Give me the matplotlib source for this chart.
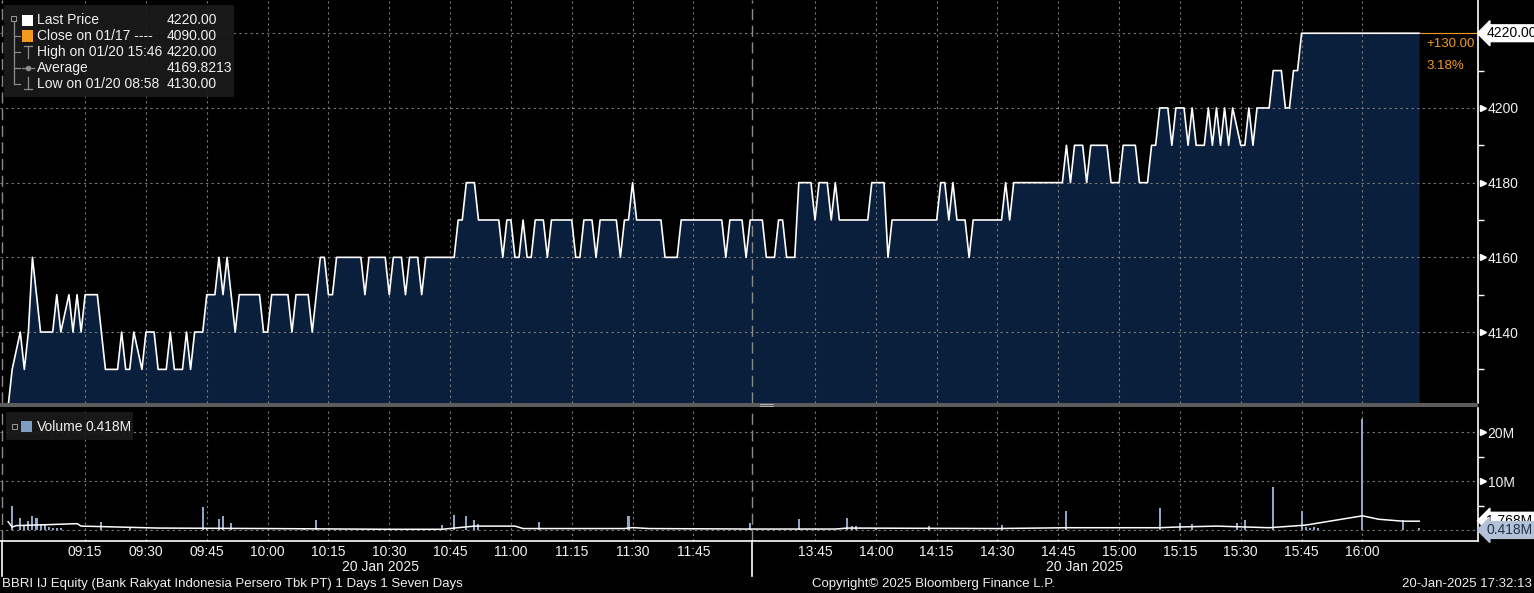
import matplotlib
matplotlib.use("Agg")
import matplotlib.pyplot as plt
import matplotlib.transforms as mtransforms
from matplotlib.patches import Rectangle
from matplotlib.lines import Line2D

# BBRI IJ intraday 20 Jan 2025 (1-minute bars, price + volume)
price_times = ["08:56", "08:57", "08:59", "09:00", "09:01", "09:02", "09:04", "09:07", "09:08", "09:09",
               "09:11", "09:12", "09:13", "09:14", "09:15", "09:18", "09:20", "09:23", "09:24", "09:25",
               "09:26", "09:27", "09:29", "09:30", "09:32", "09:33", "09:35", "09:36", "09:37", "09:39",
               "09:40", "09:41", "09:42", "09:44", "09:45", "09:47", "09:48", "09:49", "09:50", "09:52",
               "09:53", "09:58", "09:59", "10:00", "10:01", "10:05", "10:06", "10:07", "10:10", "10:11",
               "10:13", "10:14", "10:15", "10:16", "10:17", "10:23", "10:24", "10:25", "10:29", "10:30",
               "10:31", "10:33", "10:34", "10:35", "10:37", "10:38", "10:39", "10:46", "10:47", "10:48",
               "10:49", "10:51", "10:52", "10:57", "10:58", "10:59", "11:00", "11:01", "11:02", "11:03",
               "11:04", "11:05", "11:06", "11:08", "11:09", "11:10", "11:15", "11:16", "11:17", "11:18",
               "11:20", "11:21", "11:22", "11:26", "11:27", "11:28", "11:29", "11:30", "11:31", "11:37",
               "11:38", "11:41", "11:42", "11:52", "11:53", "11:54", "11:57", "11:58", "11:59",
               "13:32", "13:33", "13:35", "13:36", "13:37", "13:38", "13:40", "13:41", "13:44", "13:45",
               "13:46", "13:48", "13:49", "13:50", "13:51", "13:58", "13:59", "14:02", "14:03", "14:04",
               "14:15", "14:16", "14:17", "14:18", "14:19", "14:20", "14:22", "14:23", "14:24", "14:31",
               "14:32", "14:33", "14:34", "14:46", "14:47", "14:48", "14:49", "14:51", "14:52", "14:53",
               "14:57", "14:58", "15:00", "15:01", "15:04", "15:05", "15:07", "15:08", "15:09", "15:10",
               "15:12", "15:13", "15:14", "15:16", "15:17", "15:18", "15:19", "15:21", "15:22", "15:23",
               "15:24", "15:25", "15:26", "15:27", "15:28", "15:30", "15:31", "15:32", "15:33", "15:34",
               "15:37", "15:38", "15:40", "15:41", "15:42", "15:43", "15:44", "15:45", "16:14"]
price_values = [4120, 4130, 4140, 4130, 4140, 4160, 4140, 4140, 4150, 4140,
                4150, 4140, 4150, 4140, 4150, 4150, 4130, 4130, 4140, 4130,
                4130, 4140, 4130, 4140, 4140, 4130, 4130, 4140, 4130, 4130,
                4140, 4130, 4140, 4140, 4150, 4150, 4160, 4150, 4160, 4140,
                4150, 4150, 4140, 4140, 4150, 4150, 4140, 4150, 4150, 4140,
                4160, 4160, 4150, 4150, 4160, 4160, 4150, 4160, 4160, 4150,
                4160, 4160, 4150, 4160, 4160, 4150, 4160, 4160, 4170, 4170,
                4180, 4180, 4170, 4170, 4160, 4170, 4170, 4160, 4160, 4170,
                4160, 4160, 4170, 4170, 4160, 4170, 4170, 4160, 4160, 4170,
                4170, 4160, 4170, 4170, 4160, 4170, 4170, 4180, 4170, 4170,
                4160, 4160, 4170, 4170, 4160, 4170, 4170, 4160, 4170,
                4170, 4160, 4160, 4170, 4170, 4160, 4160, 4180, 4180, 4170,
                4180, 4180, 4170, 4180, 4170, 4170, 4180, 4180, 4160, 4170,
                4170, 4180, 4180, 4170, 4180, 4170, 4170, 4160, 4170, 4170,
                4180, 4170, 4180, 4180, 4190, 4180, 4190, 4190, 4180, 4190,
                4190, 4180, 4180, 4190, 4190, 4180, 4180, 4190, 4190, 4200,
                4200, 4190, 4200, 4200, 4190, 4200, 4190, 4190, 4200, 4190,
                4200, 4190, 4200, 4190, 4200, 4190, 4190, 4200, 4190, 4200,
                4200, 4210, 4210, 4200, 4200, 4210, 4210, 4220, 4220]

vol_times = ["08:57", "08:59", "09:00", "09:01", "09:02", "09:03", "09:04", "09:05", "09:06", "09:07",
             "09:08", "09:09", "09:19", "09:26", "09:44", "09:45", "09:48", "09:49", "09:51", "10:09",
             "10:12", "10:43", "10:46", "10:49", "10:51", "10:52", "11:07", "11:29", "11:59", "13:41",
             "13:53", "13:54", "13:55", "14:00", "14:13", "14:31", "14:47", "15:10", "15:15", "15:18",
             "15:29", "15:31", "15:38", "15:45", "15:46", "15:47", "15:48", "15:49", "16:00", "16:10",
             "16:14"]
vol_values = [4.9, 2.5, 1.0, 1.8, 2.9, 2.4, 1.3, 1.3, 0.6, 0.5,
              0.5, 0.4, 1.6, 0.4, 4.7, 0.5, 2.2, 2.9, 1.4, 0.5,
              2.0, 1.0, 3.0, 2.8, 2.0, 1.2, 1.6, 2.8, 1.5, 2.2,
              2.4, 0.8, 0.8, 0.4, 0.8, 1.0, 3.9, 4.5, 1.4, 1.2,
              1.4, 2.0, 8.8, 3.9, 0.6, 0.5, 0.7, 0.5, 22.6, 2.0,
              0.418]

avg_times = ["08:56", "08:57", "08:58", "09:06", "09:13", "09:14", "09:19", "09:33", "10:00", "10:30",
             "10:43", "10:51", "11:01", "11:03", "11:28", "11:30", "11:34", "11:59", "13:50", "13:53",
             "14:30", "14:47", "15:10", "15:14", "15:24", "15:37", "15:46", "16:00", "16:04", "16:10",
             "16:14"]
avg_values = [1.7, 0.6, 0.9, 1.1, 1.3, 0.8, 0.7, 0.4, 0.3, 0.15,
              0.15, 0.8, 0.8, 0.3, 0.3, 0.5, 0.3, 0.2, 0.2, 0.4,
              0.3, 0.47, 0.47, 0.6, 0.8, 0.47, 1.0, 2.9, 2.2, 1.8,
              1.8]

tick_times = ["09:15", "09:30", "09:45", "10:00", "10:15", "10:30", "10:45", "11:00", "11:15", "11:30",
              "11:45", "13:45", "14:00", "14:15", "14:30", "14:45", "15:00", "15:15", "15:30", "15:45",
              "16:00"]
price_ticks = [4140, 4160, 4180, 4200]
vol_ticks = [10, 20]


def tx(s):
    # minutes on a compressed axis (lunch break removed)
    h, m = map(int, s.split(":"))
    t = h * 60 + m
    if t <= 12 * 60:
        return t - (8 * 60 + 56)
    return 184 + t - (13 * 60 + 30)


W, H = 1534, 593
plt.rcParams["font.family"] = ["Liberation Sans", "DejaVu Sans"]
BG = "#000000"
NAVY = "#0a1f3b"
GRID = "#7a7a7a"
ORANGE = "#f39a1e"
VOLC = "#8fa6c6"
TXT = "#f0f0f0"

fig = plt.figure(figsize=(W / 100, H / 100), dpi=100, facecolor=BG)


def fx(x):
    return x / W


def fy(y):
    return 1 - y / H


xmin, xmax = -2.0, 362.5
px = [tx(t) for t in price_times]
vx = [tx(t) for t in vol_times]
ax_ = [tx(t) for t in avg_times]

# ---- price panel
ax1 = fig.add_axes([0, fy(403), fx(1478), 403 / H], facecolor=BG)
ax1.set_xlim(xmin, xmax)
ax1.set_ylim(4121, 4228.9)
ax1.fill_between(px, price_values, 4100, color=NAVY, lw=0, zorder=1)
ax1.plot(px, price_values, color="white", lw=1.2, zorder=3)
ax1.plot([px[-1], xmax], [price_values[-1], price_values[-1]], color=ORANGE, lw=0.8, zorder=3)
for t in tick_times:
    ax1.axvline(tx(t), color=GRID, lw=0.8, ls=(0, (2, 3)), zorder=2)
for v in price_ticks + [4220]:
    ax1.axhline(v, color=GRID, lw=0.8, ls=(0, (2, 3)), zorder=2)
ax1.axvline(183.4, color="#8a8a8a", lw=1, ls=(0, (8, 4)), zorder=2)
ax1.axvline(xmin + 0.4, color="#8a8a8a", lw=1, ls=(0, (8, 4)), zorder=2)

ax1.yaxis.tick_right()
ax1.set_yticks(price_ticks)
ax1.set_yticks([4130, 4150, 4170, 4190, 4210], minor=True)
ax1.set_yticklabels([str(v) for v in price_ticks], color=TXT, fontsize=10)
ax1.tick_params(axis="y", which="major", length=0, pad=7)
ax1.tick_params(axis="y", which="minor", length=4, width=1, color="white", direction="out")
ax1.set_xticks([])
for s in ["top", "left", "bottom"]:
    ax1.spines[s].set_visible(False)
ax1.spines["right"].set_color("white")
ax1.spines["right"].set_linewidth(1.2)
trans1 = mtransforms.blended_transform_factory(ax1.transAxes, ax1.transData)
for v in price_ticks:
    ax1.plot([1.0035], [v], marker=">", ms=5, color="white", transform=trans1, clip_on=False)

ax1.text(1.0055, 4220, "4220.00", transform=trans1, fontsize=10, color="black", va="center", ha="left",
         bbox=dict(boxstyle="larrow,pad=0.1", fc="white", ec="white"), zorder=6, clip_on=False)
ax1.text(tx("16:14") + 1.8, 4217, "+130.00", fontsize=9.5, color=ORANGE, va="center", ha="left")
ax1.text(tx("16:14") + 1.8, 4211.3, "3.18%", fontsize=9.5, color=ORANGE, va="center", ha="left")

# ---- separator between panels
fig.patches.append(Rectangle((0, fy(407)), fx(1478), 4 / H, transform=fig.transFigure,
                             fc="#5c5c5c", ec="none", zorder=5))
fig.lines.append(Line2D([fx(760), fx(773)], [fy(404), fy(404)], color="#b0b0b0", lw=0.7,
                        transform=fig.transFigure, zorder=6))
fig.lines.append(Line2D([fx(760), fx(773)], [fy(406), fy(406)], color="#b0b0b0", lw=0.7,
                        transform=fig.transFigure, zorder=6))

# ---- volume panel
ax2 = fig.add_axes([0, fy(541), fx(1478), 133 / H], facecolor=BG)
ax2.set_xlim(xmin, xmax)
ax2.set_ylim(-2.24, 24.9)
ax2.bar(vx, vol_values, width=0.5, color=VOLC, zorder=3)
ax2.plot(ax_, avg_values, color="white", lw=1.1, zorder=4)
for t in tick_times:
    ax2.axvline(tx(t), color=GRID, lw=0.8, ls=(0, (2, 3)), zorder=1)
for v in [0] + vol_ticks:
    ax2.axhline(v, color=GRID, lw=0.8, ls=(0, (2, 3)), zorder=1)
ax2.axvline(183.4, color="#8a8a8a", lw=1, ls=(0, (8, 4)), zorder=2)
ax2.axvline(xmin + 0.4, color="#8a8a8a", lw=1, ls=(0, (8, 4)), zorder=2)

ax2.yaxis.tick_right()
ax2.set_yticks(vol_ticks)
ax2.set_yticks([5, 15], minor=True)
ax2.set_yticklabels(["%dM" % v for v in vol_ticks], color=TXT, fontsize=10)
ax2.tick_params(axis="y", which="major", length=0, pad=7)
ax2.tick_params(axis="y", which="minor", length=4, width=1, color="white", direction="out")
ax2.set_xticks([tx(t) for t in tick_times])
ax2.set_xticklabels(tick_times, color=TXT, fontsize=10)
ax2.tick_params(axis="x", length=0, pad=3)
for s in ["top", "left"]:
    ax2.spines[s].set_visible(False)
for s in ["right", "bottom"]:
    ax2.spines[s].set_color("white")
    ax2.spines[s].set_linewidth(1.2)
trans2 = mtransforms.blended_transform_factory(ax2.transAxes, ax2.transData)
for v in vol_ticks:
    ax2.plot([1.0035], [v], marker=">", ms=5, color="white", transform=trans2, clip_on=False)
# moving-average label, mostly hidden behind the last-volume label (as in the terminal)
ax2.text(1.0055, 1.9, "1.768M", transform=trans2, fontsize=10, color="black", va="center", ha="left",
         bbox=dict(boxstyle="larrow,pad=0.1", fc="white", ec="white"), zorder=6, clip_on=False)
ax2.text(1.0055, 0.0, "0.418M", transform=trans2, fontsize=10, color="#20324c", va="center", ha="left",
         bbox=dict(boxstyle="larrow,pad=0.1", fc="#b3c2d6", ec="#b3c2d6"), zorder=7, clip_on=False)

# ---- legend boxes
fig.patches.append(Rectangle((fx(4), fy(97)), fx(230), 92 / H, transform=fig.transFigure,
                             fc="#1b1b1b", ec="none", alpha=0.92, zorder=8))
rows = [20.5, 36, 52, 68, 84]
labels = ["Last Price", "Close on 01/17 ---- ", "High on 01/20 15:46", "Average", "Low on 01/20 08:58"]
values = ["4220.00", "4090.00", "4220.00", "4169.8213", "4130.00"]
for y, lab, val in zip(rows, labels, values):
    fig.text(fx(37), fy(y), lab, color=TXT, fontsize=10, va="center", ha="left", zorder=9)
    fig.text(fx(167), fy(y), val, color=TXT, fontsize=10, va="center", ha="left", zorder=9)
fig.patches.append(Rectangle((fx(21.5), fy(26)), fx(11), 11 / H, transform=fig.transFigure,
                             fc="white", ec="none", zorder=9))
fig.patches.append(Rectangle((fx(21.5), fy(41.5)), fx(11), 11 / H, transform=fig.transFigure,
                             fc=ORANGE, ec="none", zorder=9))
fig.patches.append(Rectangle((fx(11), fy(21)), fx(5), 5 / H, transform=fig.transFigure,
                             fc="none", ec="#9a9a9a", lw=0.7, zorder=9))
tree = [([13.5, 13.5], [21, 84]), ([14, 20], [36, 36]), ([14, 20], [52, 52]), ([14, 20], [68, 68]),
        ([14, 20], [84, 84]), ([24, 32], [46, 46]), ([28, 28], [46, 58]), ([22, 34], [68, 68]),
        ([28, 28], [77, 89]), ([24, 32], [89, 89])]
for xs, ys in tree:
    fig.lines.append(Line2D([fx(v) for v in xs], [fy(v) for v in ys], color="#8c8c8c", lw=0.9,
                            transform=fig.transFigure, zorder=9))
fig.lines.append(Line2D([fx(28)], [fy(68)], marker="o", ms=3, color="#8c8c8c",
                        transform=fig.transFigure, zorder=9))

fig.patches.append(Rectangle((fx(6), fy(440)), fx(127), 28 / H, transform=fig.transFigure,
                             fc="#1b1b1b", ec="none", alpha=0.92, zorder=8))
fig.patches.append(Rectangle((fx(12), fy(428.5)), fx(5), 5 / H, transform=fig.transFigure,
                             fc="none", ec="#9a9a9a", lw=0.7, zorder=9))
fig.patches.append(Rectangle((fx(21), fy(432)), fx(11), 11 / H, transform=fig.transFigure,
                             fc="#7f9cc4", ec="none", zorder=9))
fig.text(fx(37), fy(427), "Volume", color=TXT, fontsize=10, va="center", ha="left", zorder=9)
fig.text(fx(86), fy(427), "0.418M", color=TXT, fontsize=10, va="center", ha="left", zorder=9)

# ---- date labels, separators and footer
fig.text(fx(380), fy(567), "20 Jan 2025", color=TXT, fontsize=10, ha="center", va="center")
fig.text(fx(1085), fy(567), "20 Jan 2025", color=TXT, fontsize=10, ha="center", va="center")
for xv in [1.5, 752]:
    fig.lines.append(Line2D([fx(xv), fx(xv)], [fy(541), fy(576)], color="white", lw=1.2,
                            transform=fig.transFigure))
fig.text(fx(2), fy(584), "BBRI IJ Equity (Bank Rakyat Indonesia Persero Tbk PT) 1 Days 1 Seven Days",
         color=TXT, fontsize=9.5, ha="left", va="center")
fig.text(fx(812), fy(584), "Copyright\u00a9 2025 Bloomberg Finance L.P.", color=TXT, fontsize=9.5,
         ha="left", va="center")
fig.text(fx(1532), fy(584), "20-Jan-2025 17:32:13", color=TXT, fontsize=9.5, ha="right", va="center")

fig.savefig("out.png", dpi=100, facecolor=BG)
